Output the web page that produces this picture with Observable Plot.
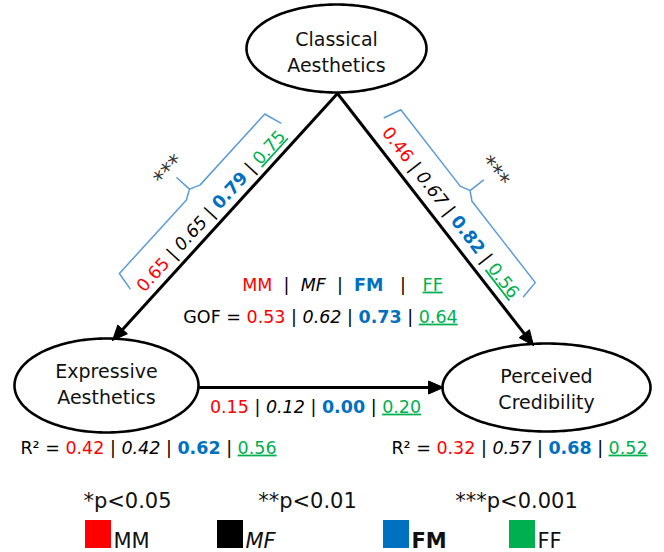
<!DOCTYPE html>
<html><head><meta charset="utf-8">
<script src="https://cdn.jsdelivr.net/npm/d3@7"></script>
<script src="https://cdn.jsdelivr.net/npm/@observablehq/plot@0.6"></script>
<style>
html,body{margin:0;padding:0;background:#fff;}
#chart svg{display:block;}
</style></head><body><div id="chart"></div>
<script>
// ---------- data ----------
const groups = ["MM", "MF", "FM", "FF"];
const nodeNames = ["Classical\nAesthetics", "Expressive\nAesthetics", "Perceived\nCredibility"];
const pathCE = [0.65, 0.65, 0.79, 0.75];   // Classical -> Expressive
const pathCP = [0.46, 0.67, 0.82, 0.56];   // Classical -> Perceived
const pathEP = [0.15, 0.12, 0.00, 0.20];   // Expressive -> Perceived
const gof = [0.53, 0.62, 0.73, 0.64];
const r2Expressive = [0.42, 0.42, 0.62, 0.56];
const r2Perceived = [0.32, 0.57, 0.68, 0.52];
const pathSig = ["***", "***", ""];
const sigLegend = ["*p<0.05", "**p<0.01", "***p<0.001"];

// ---------- styles / layout ----------
const groupColors = ["#ff0000", "#000000", "#0070c0", "#00b050"];
const groupFont = [{}, {style: "italic"}, {weight: "bold"}, {underline: true}];
const W = 664, H = 552;
const nodeLayout = [
  {cx: 336, cy: 48, rx: 90, ry: 44, ty: 50},
  {cx: 106, cy: 385, rx: 92, ry: 47, ty: 382},
  {cx: 546, cy: 387, rx: 104, ry: 44, ty: 387}
];
const edgeLayout = [
  {x1: 337, y1: 93, x2: 112, y2: 340, side: 1, t: 0.515, off: 14, t0: 0.18, t1: 0.85, tm: 0.51, starOff: 73},
  {x1: 337, y1: 93, x2: 533, y2: 345, side: -1, t: 0.512, off: 16, t0: 0.15, t1: 0.86, tm: 0.495, starOff: 76},
  {x1: 197, y1: 387, x2: 443, y2: 387, side: 0}
];
const sigLegendX = [127, 307, 516];
const swatchX = [85, 217, 383, 509];

// ---------- build tables ----------
const nodes = nodeNames.map((name, i) => ({name, ...nodeLayout[i]}));
const ellipsePts = [];
nodes.forEach((n, i) => {
  for (let k = 0; k <= 180; k++) {
    const a = (k / 180) * 2 * Math.PI;
    ellipsePts.push({id: i, x: n.cx + n.rx * Math.cos(a), y: n.cy + n.ry * Math.sin(a)});
  }
});

const edges = edgeLayout.map((e, i) => {
  const dx = e.x2 - e.x1, dy = e.y2 - e.y1, len = Math.hypot(dx, dy);
  const ux = dx / len, uy = dy / len;
  const nx = e.side * -uy, ny = e.side * ux;
  const L = 15;
  const bx = e.x2 - ux * L, by = e.y2 - uy * L;
  let rx = ux, ry = uy; if (rx < 0) { rx = -rx; ry = -ry; }
  const rot = Math.atan2(ry, rx) * 180 / Math.PI;
  return {...e, i, ux, uy, nx, ny, bx, by, rot};
});
const headPts = [];
edges.forEach(e => {
  const px = -e.uy, py = e.ux, hw = 6.5;
  [[e.x2, e.y2], [e.bx + px * hw, e.by + py * hw], [e.bx - px * hw, e.by - py * hw], [e.x2, e.y2]]
    .forEach(([x, y]) => headPts.push({id: e.i, x, y}));
});

const P = (e, t, o) => [e.x1 + t * (e.x2 - e.x1) + o * e.nx, e.y1 + t * (e.y2 - e.y1) + o * e.ny];
const bracePts = [];
edges.filter(e => e.side !== 0).forEach(e => {
  const off = 40, tick = 22, tip = 62, cusp = 45;
  const seq = [P(e, e.t0, tick), P(e, e.t0 + 0.012, off), P(e, e.tm - 0.03, off), P(e, e.tm, cusp), P(e, e.tm, tip),
               P(e, e.tm, cusp), P(e, e.tm + 0.03, off), P(e, e.t1 - 0.012, off), P(e, e.t1, tick)];
  seq.forEach(([x, y]) => bracePts.push({id: e.i, x, y}));
});
const stars = edges.filter(e => e.side !== 0).map(e => {
  const [x, y] = P(e, e.tm, e.starOff);
  return {x, y, rot: e.rot, text: pathSig[e.i]};
});

function valueSegs(vals) {
  const s = [];
  vals.forEach((v, i) => { if (i) s.push({t: " | ", k: "sep"}); s.push({t: v.toFixed(2), k: i}); });
  return s;
}
const richLabels = [];
function addRich(segs, x, y, rotate = 0) {
  richLabels.push({segs, x, y, rotate, key: segs.map(s => s.t).join("")});
}
addRich([{t: groups[0], k: 0}, {t: "  |  ", k: "sep"}, {t: groups[1], k: 1}, {t: "  |  ", k: "sep"},
         {t: groups[2], k: 2}, {t: "   |   ", k: "sep"}, {t: groups[3], k: 3}], 342, 284.5);
addRich([{t: "GOF = ", k: "sep"}, ...valueSegs(gof)], 320, 316.5);
addRich(valueSegs(pathEP), 315, 406.5);
addRich([{t: "R² = ", k: "sep"}, ...valueSegs(r2Expressive)], 148, 447.5);
addRich([{t: "R² = ", k: "sep"}, ...valueSegs(r2Perceived)], 519, 447.5);
[pathCE, pathCP].forEach((vals, i) => {
  const e = edges[i];
  const [x, y] = P(e, e.t, e.off);
  addRich(valueSegs(vals), x, y, e.rot);
});

const sigItems = sigLegend.map((t, i) => ({t, x: sigLegendX[i], y: 501}));
const swatches = groups.map((g, i) => ({g, x1: swatchX[i], x2: swatchX[i] + 26, y1: 520, y2: 548,
  color: groupColors[i], lx: swatchX[i] + 28, ly: 540.5}));

// ---------- plot ----------
const svg = Plot.plot({
  width: W, height: H, margin: 0,
  x: {domain: [0, W], range: [0, W], axis: null},
  y: {domain: [0, H], range: [0, H], axis: null},
  style: {fontFamily: "'DejaVu Sans', Verdana, sans-serif", background: "#fff", color: "#000"},
  marks: [
    Plot.line(bracePts, {x: "x", y: "y", z: "id", stroke: "#5b9bd5", strokeWidth: 1.5, strokeLinejoin: "round"}),
    Plot.line(ellipsePts, {x: "x", y: "y", z: "id", stroke: "#000", strokeWidth: 2.6}),
    Plot.link(edges, {x1: "x1", y1: "y1", x2: "bx", y2: "by", stroke: "#000", strokeWidth: 3}),
    Plot.line(headPts, {x: "x", y: "y", z: "id", fill: "#000", stroke: "#000", strokeWidth: 1}),
    Plot.text(nodes, {x: "cx", y: "ty", text: "name", fontSize: 19, lineHeight: 1.37, fill: "#111"}),
    Plot.text(stars, {x: "x", y: "y", text: "text", rotate: "rot", fontSize: 22, fill: "#333"}),
    Plot.text(richLabels, {x: "x", y: "y", text: "key", rotate: "rotate", fontSize: 17.5, fill: "#000"}),
    Plot.text(sigItems, {x: "x", y: "y", text: "t", fontSize: 21, fill: "#111"}),
    Plot.rect(swatches, {x1: "x1", x2: "x2", y1: "y1", y2: "y2", fill: "color"}),
    Plot.text(swatches.filter((d, i) => i === 0 || i === 3), {x: "lx", y: "ly", text: "g", textAnchor: "start", fontSize: 21, fill: "#111"}),
    Plot.text(swatches.filter((d, i) => i === 1), {x: "lx", y: "ly", text: "g", textAnchor: "start", fontSize: 21, fontStyle: "italic", fill: "#111"}),
    Plot.text(swatches.filter((d, i) => i === 2), {x: "lx", y: "ly", text: "g", textAnchor: "start", fontSize: 21, fontWeight: "bold", fill: "#111"})
  ]
});

// rich (multi-style) text: split each label into styled tspans
const NS = "http://www.w3.org/2000/svg";
const byKey = new Map(richLabels.map(d => [d.key, d]));
svg.querySelectorAll("text").forEach(el => {
  const d = byKey.get(el.textContent);
  if (!d) return;
  el.textContent = "";
  el.setAttributeNS("http://www.w3.org/XML/1998/namespace", "xml:space", "preserve");
  el.style.whiteSpace = "pre";
  for (const s of d.segs) {
    const ts = document.createElementNS(NS, "tspan");
    ts.textContent = s.t;
    if (typeof s.k === "number") {
      ts.setAttribute("fill", groupColors[s.k]);
      const f = groupFont[s.k];
      if (f.style) ts.setAttribute("font-style", f.style);
      if (f.weight) ts.setAttribute("font-weight", f.weight);
      if (f.underline) { ts.setAttribute("text-decoration", "underline"); ts.style.textDecoration = "underline"; }
    } else {
      ts.setAttribute("fill", "#000");
    }
    el.appendChild(ts);
  }
});

document.getElementById("chart").appendChild(svg);
</script>
</body></html>
